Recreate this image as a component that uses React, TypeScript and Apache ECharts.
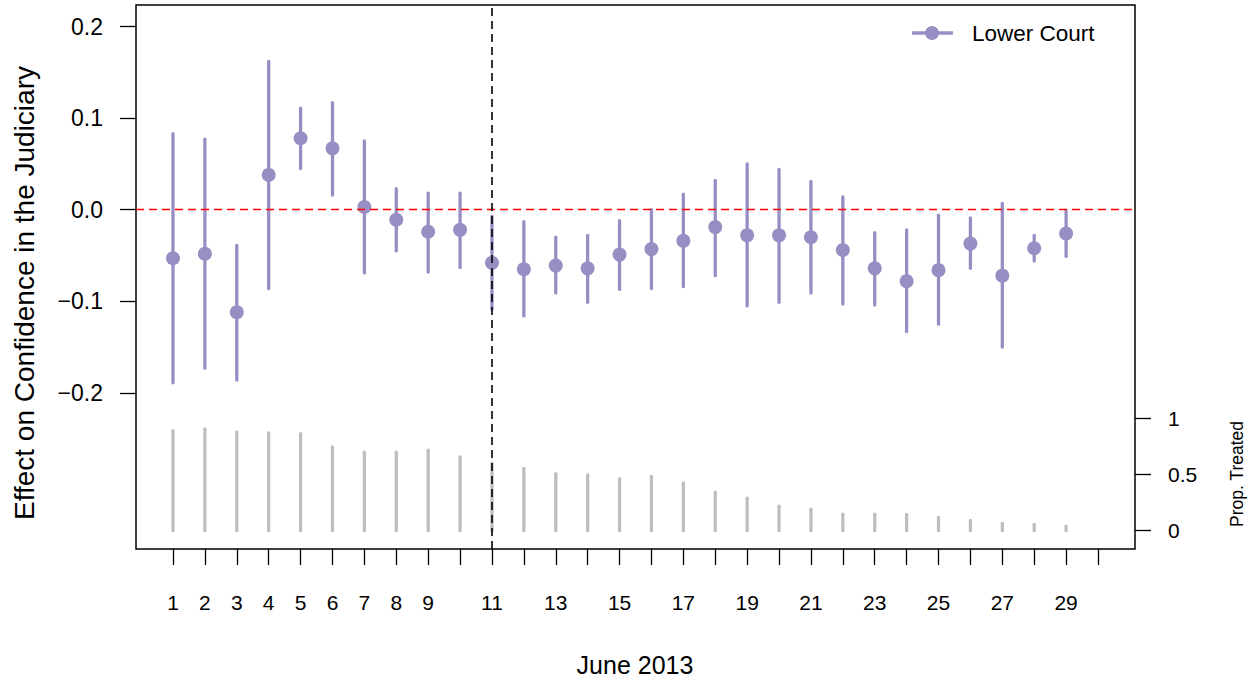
import React, { useEffect, useRef } from "react";
import * as echarts from "echarts";

const days = [1, 2, 3, 4, 5, 6, 7, 8, 9, 10, 11, 12, 13, 14, 15, 16, 17, 18, 19, 20, 21, 22, 23, 24, 25, 26, 27, 28, 29];
const estimate = [-0.053, -0.048, -0.112, 0.038, 0.078, 0.067, 0.003, -0.011, -0.024, -0.022, -0.058, -0.065, -0.061, -0.064, -0.049, -0.043, -0.034, -0.019, -0.028, -0.028, -0.030, -0.044, -0.064, -0.078, -0.066, -0.037, -0.072, -0.042, -0.026];
const lower = [-0.189, -0.173, -0.186, -0.086, 0.045, 0.016, -0.069, -0.045, -0.068, -0.063, -0.109, -0.116, -0.091, -0.101, -0.087, -0.086, -0.084, -0.072, -0.105, -0.101, -0.091, -0.103, -0.104, -0.133, -0.125, -0.064, -0.150, -0.056, -0.051];
const upper = [0.083, 0.077, -0.039, 0.162, 0.111, 0.117, 0.075, 0.023, 0.018, 0.018, -0.007, -0.013, -0.030, -0.028, -0.012, 0.000, 0.017, 0.032, 0.050, 0.044, 0.031, 0.014, -0.025, -0.022, -0.006, -0.009, 0.007, -0.028, -0.001];
const propTreated = [0.89, 0.905, 0.878, 0.87, 0.863, 0.745, 0.698, 0.698, 0.716, 0.657, 0.60, 0.553, 0.508, 0.497, 0.464, 0.482, 0.425, 0.343, 0.29, 0.219, 0.192, 0.148, 0.148, 0.145, 0.118, 0.092, 0.065, 0.056, 0.041];

const xTicks = [1, 2, 3, 4, 5, 6, 7, 8, 9, 10, 11, 12, 13, 14, 15, 16, 17, 18, 19, 20, 21, 22, 23, 24, 25, 26, 27, 28, 29, 30];
const xLabels = [1, 2, 3, 4, 5, 6, 7, 8, 9, 11, 13, 15, 17, 19, 21, 23, 25, 27, 29];
const yTicks = [-0.2, -0.1, 0, 0.1, 0.2];
const propTicks = [0, 0.5, 1];
const treatmentDay = 11;

const PURPLE = "#998ec3";
const GRAY = "#bebebe";
const FONT = "Liberation Sans, Arial, Helvetica, sans-serif";

export default function App() {
  const ref = useRef<HTMLDivElement>(null);
  useEffect(() => {
    document.body.style.margin = "0";
    const chart = echarts.init(ref.current!, null, { renderer: "svg" });
    const ciData = days.map((d, i) => [d, lower[i], upper[i]]);
    const ptData = days.map((d, i) => [d, estimate[i]]);
    const propData = days.map((d, i) => [d, propTreated[i]]);

    const option: any = {
      animation: false,
      textStyle: { fontFamily: FONT },
      grid: {
        left: 136,
        right: 119,
        top: 5,
        bottom: 135,
        show: true,
        borderColor: "#000",
        borderWidth: 1.5,
        backgroundColor: "transparent",
      },
      xAxis: {
        type: "value",
        min: -0.16,
        max: 31.16,
        position: "bottom",
        axisLine: { show: false, onZero: false },
        splitLine: { show: false },
        axisTick: {
          show: true,
          customValues: xTicks,
          length: 16,
          lineStyle: { color: "#000", width: 1.3 },
        },
        axisLabel: {
          customValues: xLabels,
          fontSize: 21,
          color: "#000",
          margin: 43,
          fontFamily: FONT,
        },
      },
      yAxis: [
        {
          type: "value",
          min: -0.3704,
          max: 0.2235,
          position: "left",
          axisLine: { show: false, onZero: false },
          splitLine: { show: false },
          axisTick: {
            show: true,
            customValues: yTicks,
            length: 16,
            lineStyle: { color: "#000", width: 1.3 },
          },
          axisLabel: {
            customValues: yTicks,
            fontSize: 23,
            color: "#000",
            margin: 33,
            fontFamily: FONT,
            formatter: (v: number) => v.toFixed(1).replace("-", "\u2212"),
          },
        },
        {
          type: "value",
          min: -0.163,
          max: 4.677,
          position: "right",
          axisLine: { show: false, onZero: false },
          splitLine: { show: false },
          axisTick: {
            show: true,
            customValues: propTicks,
            length: 16,
            lineStyle: { color: "#000", width: 1.3 },
          },
          axisLabel: {
            customValues: propTicks,
            fontSize: 21,
            color: "#000",
            margin: 33,
            fontFamily: FONT,
            formatter: (v: number) => String(v),
          },
        },
      ],
      series: [
        {
          type: "custom",
          name: "Prop. Treated",
          xAxisIndex: 0,
          yAxisIndex: 1,
          data: propData,
          encode: { x: 0, y: 1 },
          z: 2,
          renderItem: (params: any, api: any) => {
            const x = api.value(0);
            const p0 = api.coord([x, 0]);
            const p1 = api.coord([x, api.value(1)]);
            return {
              type: "line",
              shape: { x1: p0[0], y1: p0[1], x2: p1[0], y2: p1[1] },
              style: { stroke: GRAY, lineWidth: 3.3, lineCap: "round" },
            };
          },
        },
        {
          type: "custom",
          name: "CI",
          xAxisIndex: 0,
          yAxisIndex: 0,
          data: ciData,
          encode: { x: 0, y: [1, 2] },
          z: 3,
          renderItem: (params: any, api: any) => {
            const x = api.value(0);
            const p0 = api.coord([x, api.value(1)]);
            const p1 = api.coord([x, api.value(2)]);
            return {
              type: "line",
              shape: { x1: p0[0], y1: p0[1], x2: p1[0], y2: p1[1] },
              style: { stroke: PURPLE, lineWidth: 3.3, lineCap: "round" },
            };
          },
          markLine: {
            silent: true,
            symbol: "none",
            label: { show: false },
            data: [
              { yAxis: 0, lineStyle: { color: "#ff0000", type: [8, 5], width: 1.4 } },
              { xAxis: treatmentDay, lineStyle: { color: "#000", type: [8, 5], width: 1.6 } },
            ],
          },
        },
        {
          type: "scatter",
          name: "Lower Court",
          xAxisIndex: 0,
          yAxisIndex: 0,
          data: ptData,
          symbol: "circle",
          symbolSize: 14,
          z: 4,
          itemStyle: { color: PURPLE, opacity: 1 },
        },
      ],
      graphic: [
        {
          type: "line",
          shape: { x1: 912, y1: 33, x2: 953, y2: 33 },
          style: { stroke: PURPLE, lineWidth: 3.3 },
        },
        {
          type: "circle",
          shape: { cx: 932, cy: 33, r: 7 },
          style: { fill: PURPLE },
        },
        {
          type: "text",
          x: 972,
          y: 33,
          style: {
            text: "Lower Court",
            fontSize: 22.5,
            fontFamily: FONT,
            fill: "#000",
            align: "left",
            verticalAlign: "middle",
            textAlign: "left",
            textVerticalAlign: "middle",
          },
        },
        {
          type: "text",
          x: 635,
          y: 665,
          style: {
            text: "June 2013",
            fontSize: 25,
            fontFamily: FONT,
            fill: "#000",
            align: "center",
            verticalAlign: "middle",
            textAlign: "center",
            textVerticalAlign: "middle",
          },
        },
        {
          type: "text",
          x: 24,
          y: 293,
          rotation: Math.PI / 2,
          style: {
            text: "Effect on Confidence in the Judiciary",
            fontSize: 28,
            fontFamily: FONT,
            fill: "#000",
            align: "center",
            verticalAlign: "middle",
            textAlign: "center",
            textVerticalAlign: "middle",
          },
        },
        {
          type: "text",
          x: 1237,
          y: 474,
          rotation: Math.PI / 2,
          style: {
            text: "Prop. Treated",
            fontSize: 17.5,
            fontFamily: FONT,
            fill: "#000",
            align: "center",
            verticalAlign: "middle",
            textAlign: "center",
            textVerticalAlign: "middle",
          },
        },
      ],
    };
    chart.setOption(option);
    return () => chart.dispose();
  }, []);
  return (
    <div
      ref={ref}
      style={{ position: "absolute", left: 0, top: 0, width: 1254, height: 684, background: "#fff" }}
    />
  );
}
